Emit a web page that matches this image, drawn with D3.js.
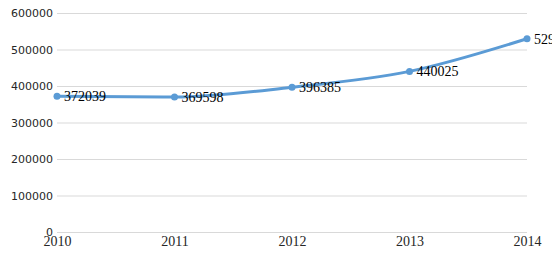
<!DOCTYPE html>
<html>
<head>
<meta charset="utf-8">
<script src="https://cdn.jsdelivr.net/npm/d3@7"></script>
<style>
  body { margin: 0; background: #fff; }
  svg { display: block; }
</style>
</head>
<body>
<div class="main"></div>
<script>
//// data
const years = [2010, 2011, 2012, 2013, 2014];
const values = [372039, 369598, 396385, 440025, 529361];
const yTicks = [0, 100000, 200000, 300000, 400000, 500000, 600000];

const width = 552;
const height = 256;
const plotLeft = 57, plotRight = 527, plotTop = 13, plotBottom = 232;

const svg = d3.select('.main').append('svg')
  .attr('width', width)
  .attr('height', height);

const xScale = d3.scalePoint()
  .domain(years)
  .range([plotLeft, plotRight]);

const yScale = d3.scaleLinear()
  .domain([0, 600000])
  .range([plotBottom, plotTop]);

// gridlines + y labels
const yAxis = d3.axisLeft(yScale)
  .tickValues(yTicks)
  .tickSize(-(plotRight - plotLeft))
  .tickPadding(4)
  .tickFormat(d3.format('d'));

const yg = svg.append('g')
  .attr('transform', `translate(${plotLeft}, 0)`)
  .call(yAxis);
yg.select('.domain').remove();
yg.selectAll('.tick line').attr('stroke', '#d9d9d9').attr('stroke-width', 1);
yg.selectAll('.tick text')
  .attr('fill', '#262626')
  .style('font-family', '"DejaVu Sans", sans-serif')
  .style('font-size', '11px');

// x labels
const xAxis = d3.axisBottom(xScale).tickSize(0).tickPadding(4);
const xg = svg.append('g')
  .attr('transform', `translate(0, ${plotBottom})`)
  .call(xAxis);
xg.select('.domain').remove();
xg.selectAll('.tick text')
  .attr('fill', '#262626')
  .style('font-family', '"Liberation Serif", serif')
  .style('font-size', '14px');

// line
const line = d3.line()
  .x((d, i) => xScale(years[i]))
  .y(d => yScale(d))
  .curve(d3.curveMonotoneX);

svg.append('path')
  .datum(values)
  .attr('fill', 'none')
  .attr('stroke', '#5b9bd5')
  .attr('stroke-width', 3)
  .attr('d', line);

svg.selectAll('circle.pt')
  .data(values)
  .enter()
  .append('circle')
  .attr('class', 'pt')
  .attr('cx', (d, i) => xScale(years[i]))
  .attr('cy', d => yScale(d))
  .attr('r', 3.5)
  .attr('fill', '#5b9bd5');

svg.selectAll('text.lbl')
  .data(values)
  .enter()
  .append('text')
  .attr('class', 'lbl')
  .attr('x', (d, i) => xScale(years[i]) + 7)
  .attr('y', d => yScale(d) + 5)
  .attr('fill', '#000')
  .style('font-family', '"Liberation Serif", serif')
  .style('font-size', '14px')
  .text(d => d);
</script>
</body>
</html>
